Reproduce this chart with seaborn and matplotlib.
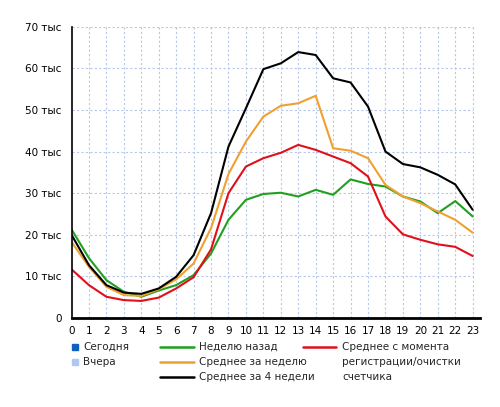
import matplotlib
matplotlib.use("Agg")
import matplotlib.pyplot as plt
from matplotlib.lines import Line2D
from matplotlib.patches import Rectangle
import seaborn as sns
import pandas as pd

hours = list(range(24))
week_ago = [21.3, 14.4, 9.1, 6.3, 5.1, 6.6, 7.9, 10.3, 15.5, 23.6, 28.4, 29.8,
            30.1, 29.2, 30.8, 29.6, 33.3, 32.2, 31.6, 29.2, 28.0, 25.2, 28.1, 24.4]
avg_week = [18.3, 12.3, 7.5, 5.5, 5.3, 6.9, 9.3, 13.1, 21.6, 34.6, 42.4, 48.4,
            51.0, 51.6, 53.4, 40.8, 40.2, 38.4, 32.0, 29.2, 27.6, 25.6, 23.6, 20.5]
avg_4weeks = [20.0, 12.7, 7.9, 6.1, 5.8, 7.1, 9.9, 15.1, 25.2, 41.2, 50.4, 59.8,
              61.2, 63.9, 63.2, 57.6, 56.6, 50.8, 40.0, 37.0, 36.2, 34.4, 32.1, 26.0]
avg_all = [11.7, 7.9, 5.1, 4.3, 4.1, 4.9, 7.1, 9.8, 16.5, 30.0, 36.4, 38.4,
           39.7, 41.6, 40.4, 38.8, 37.2, 34.0, 24.4, 20.1, 18.8, 17.7, 17.1, 14.9]

y_ticks = [0, 10, 20, 30, 40, 50, 60, 70]
y_labels = ["0", "10 тыс", "20 тыс", "30 тыс", "40 тыс", "50 тыс", "60 тыс", "70 тыс"]

series_names = ["Неделю назад", "Среднее за неделю", "Среднее за 4 недели",
                "Среднее с момента регистрации/очистки счетчика"]
colors = ["#1fa01f", "#f0a030", "#000000", "#e0101a"]

df = pd.concat([
    pd.DataFrame({"hour": hours, "value": vals, "series": name})
    for name, vals in zip(series_names, [week_ago, avg_week, avg_4weeks, avg_all])
])

sns.set_style("white")
plt.rcParams["font.family"] = ["DejaVu Sans"]

fig = plt.figure(figsize=(5.0, 4.07), dpi=100)
W, H = 500, 407
ax = fig.add_axes([71.5 / W, (H - 318) / H, (480 - 71.5) / W, (318 - 26.7) / H])

grid_kw = dict(color="#b8c8e8", linestyle=(0, (2, 2)), linewidth=0.8, zorder=0)
ax.vlines(hours[1:], 0, 70, **grid_kw)
ax.hlines(y_ticks[1:], 0, 23, **grid_kw)

sns.lineplot(data=df, x="hour", y="value", hue="series", hue_order=series_names,
             palette=dict(zip(series_names, colors)), linewidth=1.5, ax=ax,
             legend=False)

ax.set_xlim(0, 23.42)
ax.set_ylim(0, 70)
ax.set_xticks(hours)
ax.set_xticklabels([str(h) for h in hours], fontsize=7.5)
ax.set_yticks(y_ticks)
ax.set_yticklabels(y_labels, fontsize=7.5)
ax.set_xlabel("")
ax.set_ylabel("")
ax.grid(False)

for s in ["top", "right"]:
    ax.spines[s].set_visible(False)
ax.spines["left"].set_color("black")
ax.spines["bottom"].set_color("black")
ax.spines["left"].set_linewidth(1.2)
ax.spines["bottom"].set_linewidth(2)
ax.tick_params(axis="y", direction="out", length=4, width=1, pad=3, colors="black")
ax.tick_params(axis="x", direction="out", length=2, width=1, pad=4, colors="black")

# Legend drawn manually
fs = 7.5
rows = [347, 362, 377]
def fy(py):
    return (H - py) / H
def fx(px):
    return px / W

sq = 6
fig.add_artist(Rectangle((fx(72), fy(rows[0] + 3)), sq / W, sq / H,
                         transform=fig.transFigure, color="#1060c0"))
fig.text(fx(83), fy(rows[0]), "Сегодня", fontsize=fs, va="center", ha="left")
fig.add_artist(Rectangle((fx(72), fy(rows[1] + 3)), sq / W, sq / H,
                         transform=fig.transFigure, color="#b0c8f0"))
fig.text(fx(83), fy(rows[1]), "Вчера", fontsize=fs, va="center", ha="left")

for i, (name, c) in enumerate(zip(series_names[:3], colors[:3])):
    fig.add_artist(Line2D([fx(160), fx(194)], [fy(rows[i]), fy(rows[i])],
                          transform=fig.transFigure, color=c, linewidth=1.8))
    fig.text(fx(199), fy(rows[i]), name, fontsize=fs, va="center", ha="left")

fig.add_artist(Line2D([fx(303), fx(336)], [fy(rows[0]), fy(rows[0])],
                      transform=fig.transFigure, color=colors[3], linewidth=1.8))
for i, txt in enumerate(["Среднее с момента", "регистрации/очистки", "счетчика"]):
    fig.text(fx(342), fy(rows[i]), txt, fontsize=fs, va="center", ha="left")

fig.savefig("out.png", dpi=100)
